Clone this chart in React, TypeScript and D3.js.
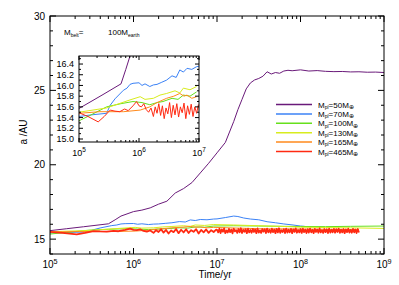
import * as d3 from "d3";
import { useEffect, useRef } from "react";

const W = 399;
const H = 285;
const FONT = "Liberation Sans, Arial, sans-serif";

// time is log10(t / yr), a in AU
const purpleT = [5.0, 5.2, 5.4, 5.7, 5.78, 5.85, 6.0, 6.1, 6.2, 6.3, 6.4, 6.5, 6.6, 6.7, 6.8, 6.9, 7.0, 7.1, 7.15, 7.2, 7.25, 7.3, 7.35, 7.4, 7.45, 7.5, 7.55, 7.6, 7.65, 7.7, 7.75, 7.8, 7.85, 7.9, 8.0, 8.1, 8.2, 8.3, 8.4, 8.5, 8.6, 8.7, 8.8, 8.9, 9.0];
const purpleA = [15.57, 15.7, 15.83, 16.03, 16.3, 16.55, 16.85, 16.95, 17.1, 17.35, 17.55, 18.1, 18.4, 18.8, 19.45, 20.1, 20.8, 21.5, 22.2, 22.9, 23.7, 24.4, 25.1, 25.5, 25.7, 25.8, 25.95, 26.25, 26.1, 26.2, 26.15, 26.3, 26.35, 26.32, 26.38, 26.3, 26.33, 26.28, 26.26, 26.27, 26.24, 26.25, 26.22, 26.23, 26.2];

const blueT = [5.0, 5.2, 5.46, 5.52, 5.6, 5.74, 5.8, 5.85, 5.9, 6.0, 6.05, 6.1, 6.18, 6.24, 6.3, 6.38, 6.46, 6.55, 6.62, 6.68, 6.74, 6.8, 6.88, 6.96, 7.0, 7.1, 7.2, 7.25, 7.32, 7.4, 7.5, 7.6, 7.7, 7.8, 7.91, 8.0, 8.05];
const blueA = [15.42, 15.45, 15.48, 15.63, 15.75, 15.91, 15.95, 16.02, 16.04, 16.05, 16.0, 16.03, 15.98, 16.01, 16.02, 16.06, 16.1, 16.18, 16.15, 16.29, 16.25, 16.32, 16.3, 16.35, 16.36, 16.45, 16.55, 16.52, 16.42, 16.35, 16.3, 16.17, 16.1, 16.02, 15.95, 15.88, 15.86];

const greenT = [5.0, 5.2, 5.46, 5.7, 5.9, 6.05, 6.18, 6.3, 6.4, 6.55, 6.65, 6.74, 6.85, 6.96, 7.2, 7.5, 7.8, 8.0, 8.3, 8.6, 9.0];
const greenA = [15.34, 15.45, 15.6, 15.66, 15.7, 15.68, 15.64, 15.68, 15.7, 15.76, 15.74, 15.82, 15.8, 15.88, 15.9, 15.88, 15.86, 15.85, 15.84, 15.86, 15.88];

const yellowT = [5.0, 5.46, 5.85, 6.02, 6.1, 6.24, 6.35, 6.46, 6.6, 6.68, 6.74, 6.85, 6.96, 7.2, 7.5, 7.8, 8.0, 8.3, 8.6, 9.0];
const yellowA = [15.5, 15.58, 15.73, 15.79, 15.74, 15.76, 15.82, 15.85, 15.9, 15.86, 15.95, 15.92, 15.98, 15.95, 15.9, 15.85, 15.8, 15.78, 15.76, 15.72];

const orangeT = [5.0, 5.35, 5.74, 6.02, 6.18, 6.3, 6.46, 6.58, 6.68, 6.75, 6.8, 6.88, 6.96, 7.2, 7.5, 8.0, 8.5, 8.7];
const orangeA = [15.48, 15.51, 15.51, 15.54, 15.6, 15.68, 15.76, 15.8, 15.85, 15.8, 15.82, 15.76, 15.79, 15.75, 15.7, 15.68, 15.65, 15.64];

const redHeadT = [5.0, 5.15, 5.32, 5.42, 5.52, 5.6, 5.68, 5.76, 5.82, 5.9, 5.96, 6.0, 6.04, 6.08, 6.12, 6.16, 6.2, 6.24, 6.27, 6.3, 6.33, 6.36, 6.39, 6.42, 6.45, 6.48, 6.51, 6.54, 6.57, 6.6, 6.63, 6.66, 6.69, 6.72, 6.75, 6.78, 6.81, 6.84, 6.87, 6.9, 6.93, 6.96, 6.99];
const redHeadA = [15.49, 15.42, 15.32, 15.42, 15.54, 15.52, 15.51, 15.56, 15.53, 15.62, 15.7, 15.62, 15.6, 15.66, 15.55, 15.5, 15.58, 15.42, 15.6, 15.48, 15.66, 15.44, 15.62, 15.38, 15.58, 15.47, 15.68, 15.4, 15.63, 15.45, 15.66, 15.41, 15.6, 15.49, 15.67, 15.38, 15.62, 15.46, 15.65, 15.42, 15.6, 15.48, 15.64];
// 1e7 .. 5e8, sampled evenly in log time
const redTailStart = 7.0;
const redTailEnd = 8.7;
const redTailA = [15.62, 15.45, 15.70, 15.41, 15.66, 15.50, 15.72, 15.40, 15.58, 15.44, 15.69, 15.47, 15.64, 15.39, 15.71, 15.52, 15.60, 15.42, 15.68, 15.46, 15.73, 15.41, 15.63, 15.49, 15.67, 15.40, 15.70, 15.45, 15.61, 15.43, 15.69, 15.48, 15.65, 15.40, 15.72, 15.44, 15.59, 15.42, 15.68, 15.50, 15.66, 15.41, 15.71, 15.46, 15.62, 15.43, 15.70, 15.47, 15.64, 15.40, 15.69, 15.45, 15.73, 15.42, 15.60, 15.48, 15.67, 15.41, 15.71, 15.44, 15.63, 15.46, 15.69, 15.40, 15.66, 15.49, 15.72, 15.43, 15.61, 15.45, 15.68, 15.42, 15.70, 15.47, 15.64, 15.41, 15.67, 15.44, 15.71, 15.46, 15.62, 15.40, 15.69, 15.48, 15.65, 15.43, 15.72, 15.45, 15.60, 15.42, 15.68, 15.47, 15.66, 15.41, 15.70, 15.44, 15.63, 15.46, 15.69, 15.43, 15.67, 15.48, 15.71, 15.42, 15.64, 15.45, 15.68, 15.40, 15.66, 15.47, 15.70, 15.44, 15.62, 15.43, 15.69, 15.46, 15.65, 15.41, 15.68, 15.45];

const masses = ["50", "70", "100", "130", "165", "465"];
const colors = ["#6a1a7a", "#3b82f6", "#66e01c", "#d8ec1e", "#ff8a1c", "#ff2a12"];

const mainYTicks = [15, 20, 25, 30];
const insetYTicks = [15.0, 15.2, 15.4, 15.6, 15.8, 16.0, 16.2, 16.4];

type Pt = { t: number; a: number };

function zip(t: number[], a: number[]): Pt[] {
  return t.map((v, i) => ({ t: Math.pow(10, v), a: a[i] }));
}

function redSeries(): Pt[] {
  const n = redTailA.length;
  const tail = redTailA.map((a, i) => ({
    t: Math.pow(10, redTailStart + (i * (redTailEnd - redTailStart)) / (n - 1)),
    a,
  }));
  return [...zip(redHeadT, redHeadA), ...tail];
}

function powLabel(g: d3.Selection<SVGGElement, unknown, null, undefined>, x: number, y: number, exp: number, size: number) {
  const t = g
    .append("text")
    .attr("x", x)
    .attr("y", y)
    .attr("text-anchor", "middle")
    .attr("font-size", size)
    .attr("fill", "#000");
  t.append("tspan").text("10");
  t.append("tspan").attr("dy", -size * 0.45).attr("font-size", size * 0.72).text(String(exp));
}

export default function App() {
  const ref = useRef<SVGSVGElement | null>(null);

  useEffect(() => {
    const el = ref.current;
    if (!el) return;
    const svg = d3.select(el);
    svg.selectAll("*").remove();
    svg.attr("font-family", FONT);

    const data = [
      zip(purpleT, purpleA),
      zip(blueT, blueA),
      zip(greenT, greenA),
      zip(yellowT, yellowA),
      zip(orangeT, orangeA),
      redSeries(),
    ];

    const box = { l: 50, r: 384, t: 16, b: 254 };
    const x = d3.scaleLog().domain([1e5, 1e9]).range([box.l, box.r]);
    const y = d3.scaleLinear().domain([14, 30]).range([box.b, box.t]);

    const ibox = { l: 79, r: 199, t: 56, b: 142 };
    const ix = d3.scaleLog().domain([1e5, 1e7]).range([ibox.l, ibox.r]);
    const iy = d3.scaleLinear().domain([14.944, 16.55]).range([ibox.b, ibox.t]);

    const defs = svg.append("defs");
    defs.append("clipPath").attr("id", "mainClip")
      .append("rect").attr("x", box.l).attr("y", box.t).attr("width", box.r - box.l).attr("height", box.b - box.t);
    defs.append("clipPath").attr("id", "insetClip")
      .append("rect").attr("x", ibox.l).attr("y", ibox.t).attr("width", ibox.r - ibox.l).attr("height", ibox.b - ibox.t);

    // main lines
    const mainLine = d3.line<Pt>().x((d) => x(d.t)).y((d) => y(d.a));
    const gm = svg.append("g").attr("clip-path", "url(#mainClip)");
    data.forEach((s, i) => {
      gm.append("path").attr("d", mainLine(s)).attr("fill", "none")
        .attr("stroke", colors[i]).attr("stroke-width", i === 5 ? 1.8 : 1).attr("stroke-linejoin", "round");
    });

    // main frame + ticks
    const ax = svg.append("g").attr("stroke", "#000").attr("stroke-width", 1);
    ax.append("rect").attr("x", box.l).attr("y", box.t).attr("width", box.r - box.l).attr("height", box.b - box.t).attr("fill", "none");
    x.ticks().forEach((v) => {
      const major = Math.abs(Math.log10(v) - Math.round(Math.log10(v))) < 1e-9;
      const len = major ? 6 : 3;
      const px = x(v);
      ax.append("line").attr("x1", px).attr("x2", px).attr("y1", box.b).attr("y2", box.b - len);
      ax.append("line").attr("x1", px).attr("x2", px).attr("y1", box.t).attr("y2", box.t + len);
    });
    d3.range(14, 31).forEach((v) => {
      const len = v % 5 === 0 ? 6 : 3;
      const py = y(v);
      ax.append("line").attr("x1", box.l).attr("x2", box.l + len).attr("y1", py).attr("y2", py);
      ax.append("line").attr("x1", box.r).attr("x2", box.r - len).attr("y1", py).attr("y2", py);
    });

    const labels = svg.append("g");
    [5, 6, 7, 8, 9].forEach((e) => powLabel(labels, x(Math.pow(10, e)), 268, e, 10));
    mainYTicks.forEach((v) => {
      labels.append("text").attr("x", 45).attr("y", y(v)).attr("dy", "0.35em")
        .attr("text-anchor", "end").attr("font-size", 10).text(String(v));
    });
    labels.append("text").attr("x", 215).attr("y", 278).attr("text-anchor", "middle")
      .attr("font-size", 10).text("Time/yr");
    labels.append("text").attr("transform", "translate(27,132) rotate(-90)")
      .attr("text-anchor", "middle").attr("font-size", 10).text("a /AU");

    // annotation
    const ann = labels.append("text").attr("x", 64).attr("y", 35).attr("font-size", 8);
    ann.append("tspan").text("M");
    ann.append("tspan").attr("font-size", 5).attr("dy", 1.5).text("belt");
    ann.append("tspan").attr("dy", -1.5).text("=");
    const ann2 = labels.append("text").attr("x", 108).attr("y", 35).attr("font-size", 8);
    ann2.append("tspan").text("100M");
    ann2.append("tspan").attr("font-size", 5).attr("dy", 1.5).text("earth");

    // inset
    svg.append("rect").attr("x", ibox.l).attr("y", ibox.t).attr("width", ibox.r - ibox.l)
      .attr("height", ibox.b - ibox.t).attr("fill", "#fff");
    const insetLine = d3.line<Pt>().x((d) => ix(d.t)).y((d) => iy(d.a));
    const gi = svg.append("g").attr("clip-path", "url(#insetClip)");
    data.forEach((s, i) => {
      gi.append("path").attr("d", insetLine(s.filter((d) => d.t <= 1.2e7))).attr("fill", "none")
        .attr("stroke", colors[i]).attr("stroke-width", 1).attr("stroke-linejoin", "round");
    });
    const iax = svg.append("g").attr("stroke", "#000").attr("stroke-width", 1);
    iax.append("rect").attr("x", ibox.l).attr("y", ibox.t).attr("width", ibox.r - ibox.l)
      .attr("height", ibox.b - ibox.t).attr("fill", "none");
    ix.ticks().forEach((v) => {
      const major = Math.abs(Math.log10(v) - Math.round(Math.log10(v))) < 1e-9;
      const len = major ? 4 : 2;
      const px = ix(v);
      iax.append("line").attr("x1", px).attr("x2", px).attr("y1", ibox.b).attr("y2", ibox.b - len);
      iax.append("line").attr("x1", px).attr("x2", px).attr("y1", ibox.t).attr("y2", ibox.t + len);
    });
    d3.range(150, 166).forEach((k) => {
      const v = k / 10;
      const len = k % 2 === 0 ? 4 : 2;
      const py = iy(v);
      iax.append("line").attr("x1", ibox.l).attr("x2", ibox.l + len).attr("y1", py).attr("y2", py);
      iax.append("line").attr("x1", ibox.r).attr("x2", ibox.r - len).attr("y1", py).attr("y2", py);
    });
    const il = svg.append("g");
    [5, 6, 7].forEach((e) => powLabel(il, ix(Math.pow(10, e)), 156, e, 9));
    insetYTicks.forEach((v) => {
      il.append("text").attr("x", 74).attr("y", iy(v)).attr("dy", "0.35em")
        .attr("text-anchor", "end").attr("font-size", 9).text(v.toFixed(1));
    });

    // legend
    const lg = svg.append("g");
    masses.forEach((m, i) => {
      const ly = 104.5 + i * 9.4;
      lg.append("line").attr("x1", 276).attr("x2", 312).attr("y1", ly).attr("y2", ly)
        .attr("stroke", colors[i]).attr("stroke-width", 1.5);
      const t = lg.append("text").attr("x", 318).attr("y", ly + 3).attr("font-size", 8);
      t.append("tspan").text("M");
      t.append("tspan").attr("font-size", 5).attr("dy", 1.2).text("pl");
      t.append("tspan").attr("dy", -1.2).text(`=${m}M`);
      t.append("tspan").attr("font-size", 5.5).attr("dy", 1.2).text("⊕");
    });
  }, []);

  return (
    <svg
      ref={ref}
      width={W}
      height={H}
      style={{ position: "absolute", left: 0, top: 0, background: "#fff", display: "block" }}
    />
  );
}
